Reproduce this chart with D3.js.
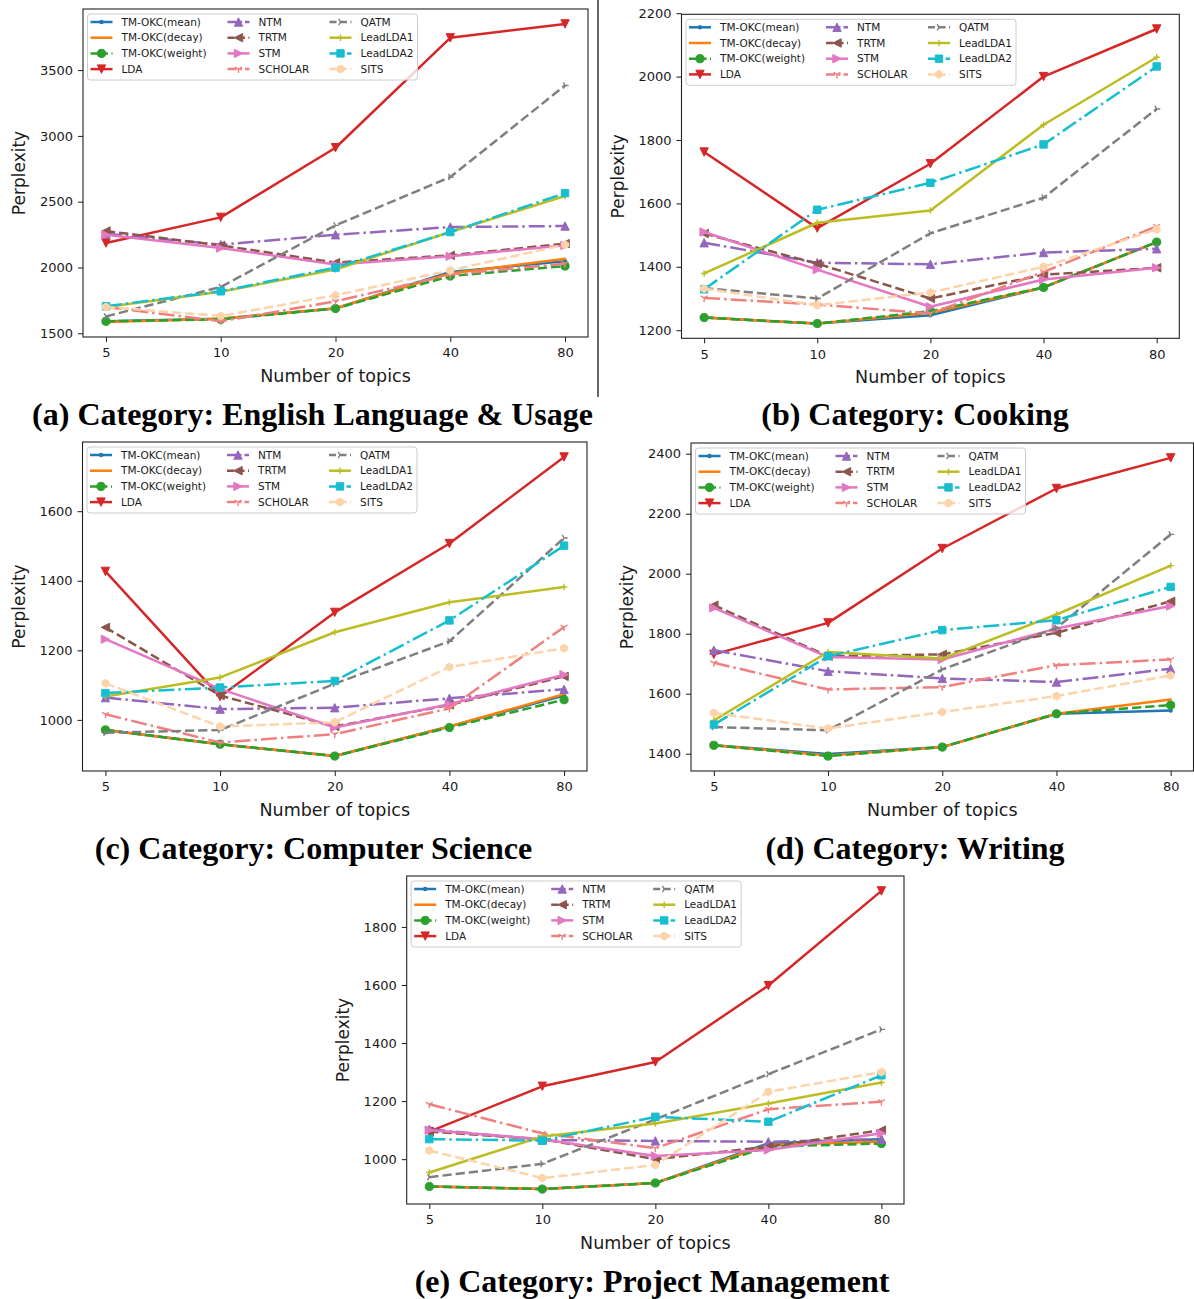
<!DOCTYPE html>
<html>
<head>
<meta charset="utf-8">
<script src="https://cdn.jsdelivr.net/npm/d3@7"></script>
<style>
  body { margin: 0; background: #fff; }
  svg { display: block; }
</style>
</head>
<body>
<svg id="fig" width="1194" height="1299"></svg>
<script>
// ---- data -----------------------------------------------------------------
const topics = [5, 10, 20, 40, 80];

const methods = [
  "TM-OKC(mean)", "TM-OKC(decay)", "TM-OKC(weight)", "LDA",
  "NTM", "TRTM", "STM", "SCHOLAR",
  "QATM", "LeadLDA1", "LeadLDA2", "SITS"
];

// perplexity per method (rows follow `methods`), columns follow `topics`
const englishUsage = [
  [1591, 1611, 1688, 1966, 2047],
  [1585, 1611, 1690, 1955, 2067],
  [1591, 1606, 1688, 1935, 2011],
  [2186, 2381, 2910, 3745, 3851],
  [2257, 2173, 2249, 2307, 2315],
  [2277, 2168, 2037, 2092, 2181],
  [2249, 2148, 2022, 2085, 2168],
  [1700, 1591, 1743, 1946, 2029],
  [1628, 1852, 2320, 2687, 3383],
  [1700, 1815, 1985, 2270, 2543],
  [1705, 1819, 1999, 2269, 2565],
  [1700, 1631, 1789, 1978, 2173]
];

const cooking = [
  [1240, 1221, 1247, 1335, 1478],
  [1240, 1221, 1255, 1335, 1478],
  [1240, 1221, 1260, 1335, 1478],
  [1762, 1522, 1725, 2000, 2150],
  [1476, 1413, 1408, 1445, 1457],
  [1505, 1410, 1300, 1375, 1397],
  [1510, 1391, 1274, 1360, 1397],
  [1302, 1281, 1253, 1384, 1528],
  [1333, 1300, 1506, 1618, 1898],
  [1379, 1539, 1578, 1848, 2061],
  [1329, 1580, 1665, 1786, 2032],
  [1331, 1279, 1319, 1400, 1518]
];

const computerScience = [
  [971, 930, 896, 981, 1070],
  [971, 930, 896, 981, 1074],
  [971, 930, 896, 978, 1058],
  [1427, 1067, 1309, 1507, 1756],
  [1064, 1031, 1035, 1062, 1088],
  [1266, 1070, 981, 1043, 1125],
  [1232, 1089, 978, 1045, 1130],
  [1016, 935, 959, 1033, 1267],
  [963, 971, 1104, 1226, 1523],
  [1067, 1122, 1252, 1338, 1382],
  [1077, 1093, 1112, 1286, 1501],
  [1105, 981, 993, 1152, 1206]
];

const writing = [
  [1428, 1399, 1422, 1533, 1544],
  [1428, 1394, 1422, 1533, 1581],
  [1428, 1392, 1422, 1533, 1562],
  [1731, 1836, 2084, 2284, 2386],
  [1745, 1675, 1651, 1639, 1683],
  [1895, 1725, 1731, 1803, 1908],
  [1886, 1722, 1714, 1817, 1892],
  [1703, 1614, 1622, 1695, 1714],
  [1489, 1478, 1681, 1819, 2131],
  [1511, 1739, 1717, 1864, 2027],
  [1497, 1725, 1812, 1845, 1956],
  [1536, 1484, 1539, 1592, 1661]
];

const projectManagement = [
  [906, 897, 918, 1055, 1069],
  [906, 897, 918, 1049, 1060],
  [906, 897, 918, 1043, 1054],
  [1095, 1251, 1335, 1598, 1924],
  [1103, 1066, 1063, 1060, 1069],
  [1095, 1069, 1000, 1043, 1100],
  [1100, 1069, 1011, 1032, 1089],
  [1189, 1089, 1038, 1172, 1198],
  [938, 984, 1137, 1293, 1447],
  [954, 1078, 1123, 1192, 1264],
  [1069, 1064, 1146, 1129, 1289],
  [1030, 935, 980, 1232, 1300]
];

const yTicksEnglish = [1500, 2000, 2500, 3000, 3500];
const yTicksCooking = [1200, 1400, 1600, 1800, 2000, 2200];
const yTicksCS = [1000, 1200, 1400, 1600];
const yTicksWriting = [1400, 1600, 1800, 2000, 2200, 2400];
const yTicksPM = [1000, 1200, 1400, 1600, 1800];

const captions = [
  "(a) Category: English Language & Usage",
  "(b) Category: Cooking",
  "(c) Category: Computer Science",
  "(d) Category: Writing",
  "(e) Category: Project Management"
];

// ---- styles ---------------------------------------------------------------
const LW = 2.5;
const DASH = [3.7 * LW, 1.6 * LW].join(",");
const DASHDOT = [6.4 * LW, 1.6 * LW, 1 * LW, 1.6 * LW].join(",");

const seriesStyle = [
  { color: "#1f77b4", dash: null,    marker: "point" },
  { color: "#ff7f0e", dash: null,    marker: null },
  { color: "#2ca02c", dash: DASH,    marker: "circle" },
  { color: "#d62728", dash: null,    marker: "tridown" },
  { color: "#9467bd", dash: DASHDOT, marker: "triup" },
  { color: "#8c564b", dash: DASH,    marker: "trileft" },
  { color: "#e377c2", dash: null,    marker: "triright" },
  { color: "#f08080", dash: DASHDOT, marker: "ydown" },
  { color: "#7f7f7f", dash: DASH,    marker: "yright" },
  { color: "#bcbd22", dash: null,    marker: "plus" },
  { color: "#17becf", dash: DASHDOT, marker: "square" },
  { color: "#fdd3aa", dash: DASH,    marker: "hexagon" }
];

// axes frames and caption anchors for the five panels
const panels = [
  { values: englishUsage,      ticks: yTicksEnglish, box: { l: 83,    t: 9,    r: 588,    b: 337 },   cap: [312.5, 425] },
  { values: cooking,           ticks: yTicksCooking, box: { l: 681.5, t: 14.3, r: 1179.3, b: 338.3 }, cap: [915, 425] },
  { values: computerScience,   ticks: yTicksCS,      box: { l: 82.5,  t: 442,  r: 587,    b: 771 },   cap: [313.5, 859] },
  { values: writing,           ticks: yTicksWriting, box: { l: 691,   t: 443,  r: 1193.5, b: 771 },   cap: [915, 859] },
  { values: projectManagement, ticks: yTicksPM,      box: { l: 406.7, t: 876,  r: 904,    b: 1204 },  cap: [652, 1292] }
];

const svg = d3.select("#fig");
const SANS = "'DejaVu Sans', sans-serif";
const INK = "#1a1a1a";

function drawMarker(g, type, color, x, y) {
  const h = 4.2;
  const m = g.append("g").attr("transform", `translate(${x},${y})`);
  const filled = (d) => m.append("path").attr("d", d).attr("fill", color)
    .attr("stroke", color).attr("stroke-width", 1).attr("stroke-linejoin", "miter");
  const stroked = (d) => m.append("path").attr("d", d).attr("fill", "none")
    .attr("stroke", color).attr("stroke-width", 1.4);
  switch (type) {
    case "point":
      m.append("circle").attr("r", 2.2).attr("fill", color); break;
    case "circle":
      m.append("circle").attr("r", 4.1).attr("fill", color).attr("stroke", color); break;
    case "tridown":  filled(`M${-h},${-h}L${h},${-h}L0,${h}Z`); break;
    case "triup":    filled(`M${-h},${h}L${h},${h}L0,${-h}Z`); break;
    case "trileft":  filled(`M${-h},0L${h},${-h}L${h},${h}Z`); break;
    case "triright": filled(`M${h},0L${-h},${-h}L${-h},${h}Z`); break;
    case "square":   filled(`M-3.7,-3.7H3.7V3.7H-3.7Z`); break;
    case "hexagon": {
      const pts = d3.range(6).map(i => {
        const a = Math.PI / 3 * i + Math.PI / 2;
        return [4 * Math.cos(a), 4 * Math.sin(a)];
      });
      filled("M" + pts.map(p => p.join(",")).join("L") + "Z"); break;
    }
    case "plus": stroked(`M-3.2,0H3.2M0,-3.2V3.2`); break;
    case "ydown": {
      const s = 4;
      stroked(`M0,0V${s}M0,0L${-s * 0.866},${-s * 0.5}M0,0L${s * 0.866},${-s * 0.5}`); break;
    }
    case "yright": {
      const s = 3.6;
      stroked(`M0,0H${s}M0,0L${-s * 0.5},${-s * 0.866}M0,0L${-s * 0.5},${s * 0.866}`); break;
    }
  }
}

function drawPanel(p, idx) {
  const { l, t, r, b } = p.box;
  const g = svg.append("g");

  const x = d3.scalePoint().domain(topics).range([l, r]).padding(0.2);
  const all = p.values.flat();
  const [lo, hi] = d3.extent(all);
  const pad = (hi - lo) * 0.05;
  const y = d3.scaleLinear().domain([lo - pad, hi + pad]).range([b, t]);

  // clip lines to the axes area
  const clipId = "clip" + idx;
  svg.append("clipPath").attr("id", clipId)
    .append("rect").attr("x", l).attr("y", t).attr("width", r - l).attr("height", b - t);

  const plot = g.append("g").attr("clip-path", `url(#${clipId})`);
  const line = d3.line().x((d, i) => x(topics[i])).y(d => y(d));

  p.values.forEach((row, si) => {
    const st = seriesStyle[si];
    plot.append("path")
      .attr("d", line(row))
      .attr("fill", "none")
      .attr("stroke", st.color)
      .attr("stroke-width", LW)
      .attr("stroke-linejoin", "round")
      .attr("stroke-linecap", st.dash ? "butt" : "round")
      .attr("stroke-dasharray", st.dash);
    if (st.marker) row.forEach((v, i) => drawMarker(plot, st.marker, st.color, x(topics[i]), y(v)));
  });

  // axes via d3 axis generators
  const xAxis = d3.axisBottom(x).tickSize(5).tickPadding(6);
  const yAxis = d3.axisLeft(y).tickValues(p.ticks).tickSize(5).tickPadding(5).tickFormat(d3.format("d"));

  const gx = g.append("g").attr("transform", `translate(0,${b})`).call(xAxis);
  const gy = g.append("g").attr("transform", `translate(${l},0)`).call(yAxis);
  [gx, gy].forEach(a => {
    a.select(".domain").remove();
    a.selectAll(".tick line").attr("stroke", INK).attr("stroke-width", 1);
    a.selectAll(".tick text").attr("fill", INK).style("font-family", SANS).style("font-size", "13px");
  });

  // frame
  g.append("rect").attr("x", l).attr("y", t).attr("width", r - l).attr("height", b - t)
    .attr("fill", "none").attr("stroke", "#222").attr("stroke-width", 1.1);

  // axis titles
  g.append("text").attr("x", (l + r) / 2).attr("y", b + 45)
    .attr("text-anchor", "middle").attr("fill", INK)
    .style("font-family", SANS).style("font-size", "17.5px")
    .text("Number of topics");
  g.append("text")
    .attr("transform", `translate(${l - 58},${(t + b) / 2}) rotate(-90)`)
    .attr("text-anchor", "middle").attr("fill", INK)
    .style("font-family", SANS).style("font-size", "17px")
    .text("Perplexity");

  // legend
  const lx = l + 4.5, ly = t + 5;
  const leg = g.append("g");
  leg.append("rect").attr("x", lx).attr("y", ly).attr("width", 330).attr("height", 66)
    .attr("rx", 3).attr("fill", "#fff").attr("fill-opacity", 0.8)
    .attr("stroke", "#cccccc").attr("stroke-width", 1);
  const colX = [3, 140, 242];
  methods.forEach((name, si) => {
    const col = Math.floor(si / 4), row = si % 4;
    const hx = lx + colX[col];
    const hy = ly + 8 + row * 15.7;
    const st = seriesStyle[si];
    leg.append("line").attr("x1", hx).attr("x2", hx + 22).attr("y1", hy).attr("y2", hy)
      .attr("stroke", st.color).attr("stroke-width", LW)
      .attr("stroke-dasharray", st.dash ? (st.dash === DASH ? "7,3.5" : "9,3,2.5,3") : null);
    if (st.marker) drawMarker(leg, st.marker, st.color, hx + 11, hy);
    leg.append("text").attr("x", hx + 31).attr("y", hy).attr("dy", "0.36em")
      .attr("fill", INK).style("font-family", SANS).style("font-size", "10.5px")
      .text(name);
  });

  // caption
  svg.append("text").attr("x", p.cap[0]).attr("y", p.cap[1])
    .attr("text-anchor", "middle").attr("fill", "#000")
    .style("font-family", "'Liberation Serif', 'Times New Roman', serif")
    .style("font-weight", "bold").style("font-size", "32px")
    .text(captions[idx]);
}

panels.forEach(drawPanel);

// divider between the first two panels
svg.append("line").attr("x1", 598).attr("x2", 598).attr("y1", 0).attr("y2", 397)
  .attr("stroke", "#000").attr("stroke-width", 1.2);
</script>
</body>
</html>
